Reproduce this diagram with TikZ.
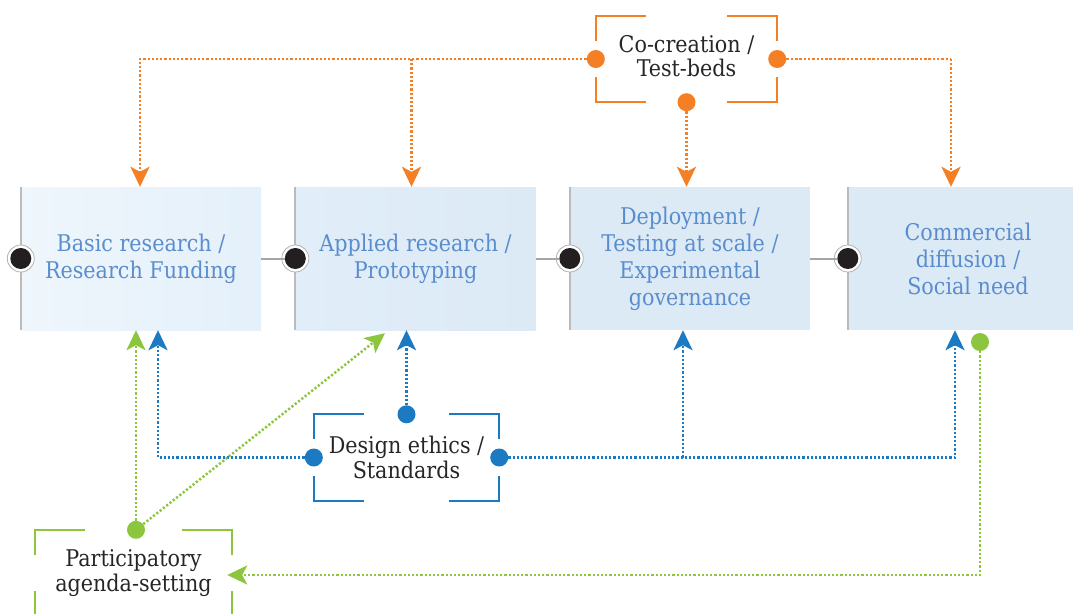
\documentclass[tikz,border=0pt]{standalone}
\usepackage{fontspec}
\setmainfont{DejaVu Serif Condensed}
\usetikzlibrary{arrows.meta}

\definecolor{stagetext}{HTML}{5A8DCD}
\definecolor{orangeC}{HTML}{F47F24}
\definecolor{blueC}{HTML}{1B7AC2}
\definecolor{greenC}{HTML}{8CC63F}
\definecolor{edgegray}{HTML}{BBBBBB}
\definecolor{linkgray}{HTML}{A6A6A6}
\definecolor{knob}{HTML}{231F20}
\definecolor{paleA}{HTML}{EFF6FC}
\definecolor{paleB}{HTML}{E4F0FA}
\definecolor{paleC}{HTML}{E1EEF9}
\definecolor{paleD}{HTML}{DCEAF6}

\tikzset{
  x=1pt, y=-1pt,
  stage/.style={rectangle, minimum width=240pt, minimum height=143pt, inner sep=0pt,
    text=stagetext, align=center, font=\fontsize{23pt}{27pt}\selectfont},
  frame/.style={rectangle, minimum width=#1, minimum height=86pt, inner sep=0pt,
    text=black!85, align=center, font=\fontsize{23pt}{25.5pt}\selectfont},
  ring/.style={circle, minimum size=27pt, inner sep=0pt, fill=white, draw=black!30, line width=0.8pt},
  knobdot/.style={circle, minimum size=21pt, inner sep=0pt, fill=knob},
  pin/.style={circle, minimum size=18pt, inner sep=0pt, fill=#1},
  link/.style={draw=linkgray, line width=2pt},
  bracket/.style={draw=#1, line width=2pt},
  flow/.style={draw=#1, line width=2.5pt, dash pattern=on 2.2pt off 2pt},
  thinflow/.style={draw=#1, line width=1.2pt, dash pattern=on 2.5pt off 1.8pt},
  tip/.style={-{Stealth[length=20pt, width=19pt, inset=5pt]}, color=#1},
}

% four corner brackets around a frame node
\newcommand\corners[2]{%
  \draw[bracket=#2] ([yshift=-25pt]#1.north west) |- ([xshift=50pt]#1.north west);
  \draw[bracket=#2] ([yshift=-25pt]#1.north east) |- ([xshift=-50pt]#1.north east);
  \draw[bracket=#2] ([yshift=25pt]#1.south west) |- ([xshift=50pt]#1.south west);
  \draw[bracket=#2] ([yshift=25pt]#1.south east) |- ([xshift=-50pt]#1.south east);
}

\begin{document}
\begin{tikzpicture}
\useasboundingbox (0,0) rectangle (1073,613);

% stage boxes
\node[stage, left color=paleA, right color=paleB] (b1) at (141,258.5) {Basic research /\\Research Funding};
\node[stage, left color=paleC, right color=paleD] (b2) at (415.5,258.5) {Applied research /\\Prototyping};
\node[stage, fill=paleD] (b3) at (690,258.5) {Deployment /\\Testing at scale /\\Experimental\\governance};
\node[stage, fill=paleD] (b4) at (968,258.5) {Commercial\\diffusion /\\Social need};

\foreach \b in {b1,b2,b3,b4}
  \draw[draw=edgegray, line width=2pt] (\b.north west) -- (\b.south west);

% joints between stages
\foreach \b/\k in {b1/k1,b2/k2,b3/k3,b4/k4}{
  \node[ring] at (\b.west) {};
  \node[knobdot] (\k) at (\b.west) {};
}
\draw[link] (b1.east) -- (k2);
\draw[link] (b2.east) -- (k3);
\draw[link] (b3.east) -- (k4);

% co-creation frame
\node[frame=181pt] (cc) at (686.5,59) {\raisebox{6pt}{\begin{tabular}{@{}c@{}}Co-creation /\\[-1.5pt]Test-beds\end{tabular}}};
\corners{cc}{orangeC}
\node[pin=orangeC] (ccl) at (cc.west) {};
\node[pin=orangeC] (ccr) at (cc.east) {};
\node[pin=orangeC] (ccb) at (cc.south) {};

% design ethics frame
\node[frame=185pt] (de) at (406.5,457.5) {Design ethics /\\Standards};
\corners{de}{blueC}
\node[pin=blueC] (det) at (de.north) {};
\node[pin=blueC] (del) at (de.west) {};
\node[pin=blueC] (der) at (de.east) {};

% participatory frame
\node[frame=197pt] (pa) at (133.5,573) {Participatory\\agenda-setting};
\corners{pa}{greenC}
\node[pin=greenC] (pat) at ([xshift=2.5pt]pa.north) {};
\node[pin=greenC] (gd) at (980,342) {};

% orange links
\coordinate (o4) at (951,59);
\draw[flow=orangeC, tip=orangeC] (ccl) -| ([xshift=-1pt]b1.north);
\draw[flow=orangeC, tip=orangeC] ([xshift=-4pt]b2.north |- ccl) -- ([xshift=-4pt]b2.north);
\draw[flow=orangeC, tip=orangeC] (ccb) -- (ccb |- b3.north);
\draw[thinflow=orangeC] (ccr) -- (o4);
\draw[flow=orangeC, tip=orangeC] (o4) -- (o4 |- b4.north);

% blue links
\draw[flow=blueC, tip=blueC] (det) -- (det |- b2.south);
\draw[flow=blueC, tip=blueC] (del) -| ([xshift=17pt]b1.south);
\draw[flow=blueC, tip=blueC] (der) -| ([xshift=-13pt]b4.south);
\draw[flow=blueC, tip=blueC] ([xshift=-7pt]b3.south |- der) -- ([xshift=-7pt]b3.south);

% green links
\coordinate (g2) at ([xshift=-30.5pt, yshift=-3pt]b2.south);
\draw[flow=greenC, tip=greenC] (pat) -- (pat |- b1.south);
\draw[flow=greenC, tip=greenC] (pat) -- (g2);
\draw[flow=greenC, tip=greenC] (gd) |- ([xshift=-5pt, yshift=-2pt]pa.east);
\end{tikzpicture}
\end{document}
